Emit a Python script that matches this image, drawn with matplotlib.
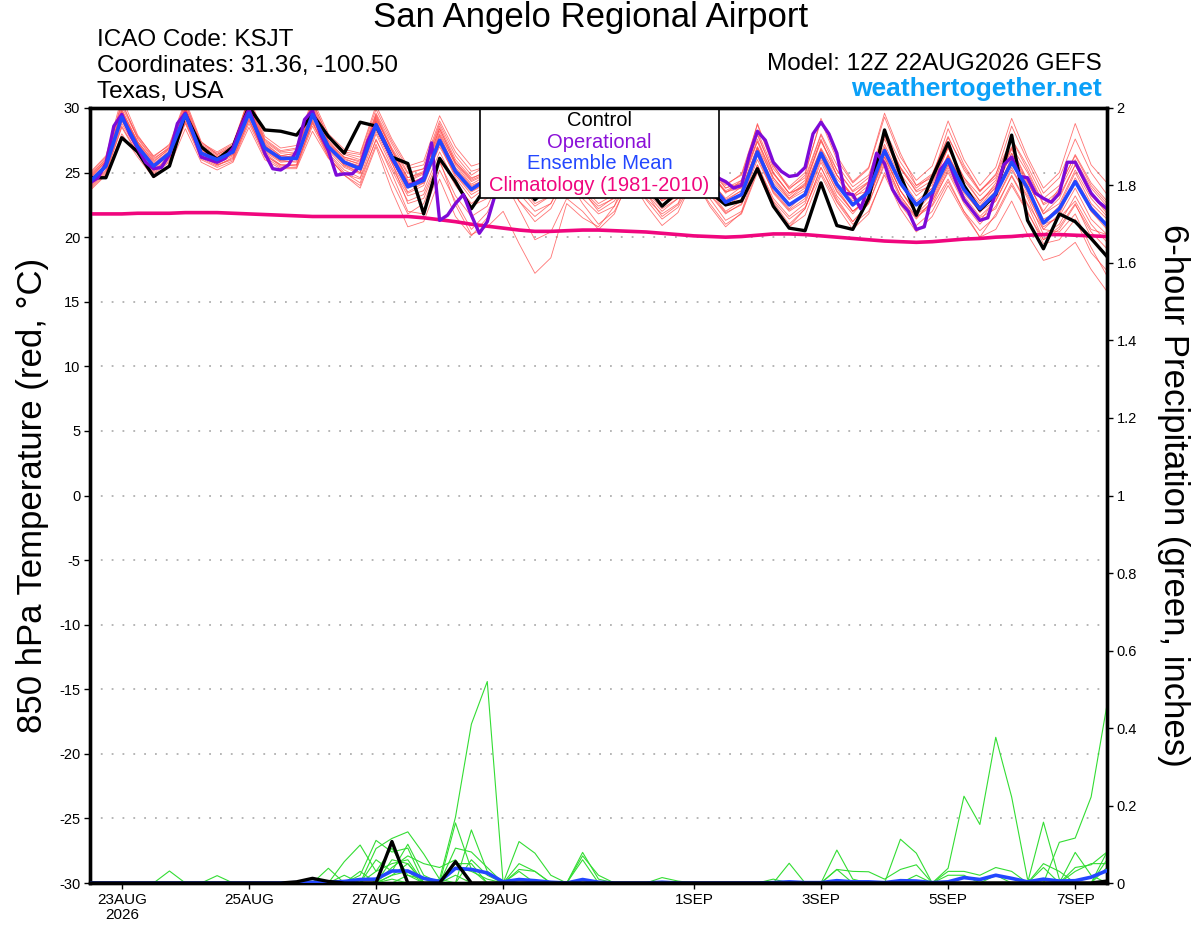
import matplotlib
matplotlib.use('Agg')
import matplotlib.pyplot as plt
import numpy as np
import pandas as pd
from matplotlib.patches import Rectangle

plt.rcParams['font.family'] = ['Liberation Sans', 'DejaVu Sans']
plt.rcParams['axes.unicode_minus'] = False

# ---------------- data ----------------
times = pd.date_range('2026-08-22 12:00', periods=65, freq='6h')
op_times = pd.date_range('2026-08-22 12:00', periods=129, freq='3h')

tick_dates = ['2026-08-23', '2026-08-25', '2026-08-27', '2026-08-29',
              '2026-09-01', '2026-09-03', '2026-09-05', '2026-09-07']
tick_labels = ['23AUG\n2026', '25AUG', '27AUG', '29AUG', '1SEP', '3SEP', '5SEP', '7SEP']

control_t = [24.6,
             24.6, 27.7, 26.6, 24.7, 25.5, 29.5, 27.0, 26.0, 27.0, 30.1, 28.3, 28.2,
             27.9, 29.5, 27.8, 26.5, 28.9, 28.6, 26.2, 25.7, 21.8, 26.1, 24.3, 22.2,
             24.0, 26.0, 24.5, 22.9, 24.0, 25.8, 24.3, 23.4, 23.6, 25.5, 24.0, 22.4,
             23.5, 25.7, 23.5, 22.5, 22.8, 25.3, 22.4, 20.7, 20.5, 24.2, 20.9, 20.6,
             23.0, 28.3, 24.8, 21.7, 24.6, 27.3, 24.0, 22.1, 23.3, 27.9, 21.3, 19.1,
             21.8, 21.2, 19.9, 18.5]

mean_t = [24.3,
          25.5, 29.3, 27.0, 25.5, 26.5, 29.5, 26.5, 26.0, 26.6, 29.6, 26.9, 26.1,
          26.1, 29.5, 27.0, 25.8, 25.3, 28.7, 26.2, 23.9, 24.4, 27.5, 25.1, 23.7,
          24.5, 26.8, 25.0, 23.8, 24.2, 26.5, 24.8, 23.6, 24.0, 26.2, 24.6, 23.1,
          23.8, 26.0, 24.2, 22.7, 23.3, 26.6, 23.9, 22.5, 23.3, 26.5, 24.1, 22.5,
          23.5, 26.7, 24.2, 22.5, 23.5, 26.0, 23.7, 22.2, 23.4, 25.8, 23.8, 21.1,
          22.2, 24.3, 22.2, 20.9]

oper_t = [24.2, 24.6, 25.7, 28.6, 29.5, 28.0, 26.9, 25.8, 25.3, 25.4, 26.4, 28.8,
          29.6, 28.0, 26.2, 26.0, 25.8, 26.1, 26.9, 28.6, 29.9, 28.2, 26.5, 25.3,
          25.2, 25.6, 26.7, 29.1, 29.8, 28.0, 26.7, 24.8, 24.9, 24.9, 25.5, 27.5,
          28.7, 27.4, 26.1, 25.1, 24.0, 24.2, 24.6, 27.3, 21.3, 21.7, 22.6, 23.3,
          21.7, 20.3, 21.2,
          23.3, 25.5, 24.8, 24.0, 23.6, 23.4, 23.2, 23.8, 25.0, 26.2, 25.4, 24.5,
          23.8, 23.5, 23.4, 24.0, 25.2, 26.5, 25.8, 24.9, 24.2, 23.7, 23.5, 24.0,
          25.0, 26.0, 25.6, 25.0, 24.6,
          24.3, 23.8, 24.0, 26.4, 28.2, 27.5, 25.8, 25.1, 24.7,
          24.8, 25.4, 28.0, 28.9, 28.0, 26.5, 23.4, 23.3, 22.2, 24.0, 26.5, 25.7,
          23.7, 22.7, 22.0, 20.6, 20.8, 23.3, 25.2, 26.0, 24.3, 22.9, 22.1, 21.3,
          21.5, 23.5, 25.6, 26.2, 24.7, 24.6, 23.4, 23.0, 22.7, 23.4, 25.8, 25.8,
          24.6, 23.4, 22.7, 22.2]

climo_t = [21.8, 21.8, 21.8, 21.85, 21.85, 21.85, 21.9, 21.9, 21.9,
           21.85, 21.8, 21.75, 21.7, 21.65, 21.6, 21.6, 21.6,
           21.6, 21.6, 21.6, 21.6, 21.5, 21.35, 21.2,
           21.0, 20.85, 20.7, 20.55, 20.45, 20.45, 20.5, 20.55, 20.55,
           20.5, 20.45, 20.4, 20.3, 20.2, 20.1, 20.05, 20.0,
           20.05, 20.15, 20.25, 20.25, 20.2, 20.1, 20.0, 19.9,
           19.8, 19.7, 19.65, 19.6, 19.65, 19.75, 19.85, 19.9,
           20.0, 20.05, 20.15, 20.2, 20.2, 20.15, 20.1, 20.05]

m01 = [24.8, 26.0, 30.5, 27.6, 26.0, 27.0, 30.3, 27.2, 26.5, 27.2, 30.6, 27.5, 26.6, 26.8, 30.4, 27.8, 26.5, 26.2, 29.6, 27.2, 25.0, 25.3, 28.8, 26.3, 24.8, 25.6, 28.0, 26.2, 24.9, 25.4, 27.9, 26.0, 24.8, 25.2, 27.7, 25.9, 24.5, 25.0, 27.5, 25.6, 24.1, 24.8, 28.2, 25.3, 23.8, 24.6, 28.0, 25.6, 23.9, 24.8, 28.3, 25.8, 24.0, 24.9, 27.8, 25.2, 23.5, 24.9, 27.6, 25.5, 23.0, 24.0, 26.3, 24.0, 22.6]
m02 = [23.6, 24.8, 28.0, 26.2, 24.6, 25.5, 28.4, 25.8, 25.2, 25.8, 28.5, 26.0, 25.3, 25.3, 28.2, 26.1, 24.9, 24.5, 27.5, 25.2, 22.8, 23.3, 26.2, 24.0, 22.4, 23.0, 25.2, 23.4, 22.0, 22.6, 24.8, 23.0, 21.8, 22.4, 24.6, 22.9, 21.4, 22.3, 24.5, 22.6, 21.0, 21.8, 25.0, 22.3, 20.8, 21.7, 24.8, 22.4, 20.6, 21.8, 25.0, 22.5, 20.9, 22.0, 24.3, 22.0, 20.5, 21.6, 24.0, 21.9, 19.8, 20.6, 22.5, 20.4, 19.1]
m03 = [24.0, 25.6, 29.6, 27.3, 25.4, 26.4, 29.8, 26.9, 25.9, 26.4, 30.1, 27.0, 26.0, 26.0, 29.9, 27.2, 25.5, 25.0, 29.0, 25.8, 22.6, 23.0, 26.0, 22.5, 20.2, 20.8, 22.0, 19.5, 17.2, 18.4, 22.6, 21.5, 20.8, 22.4, 25.6, 24.2, 22.8, 23.4, 26.2, 24.5, 22.9, 23.6, 27.0, 24.6, 23.0, 23.8, 26.9, 24.8, 23.2, 24.2, 27.8, 25.3, 23.6, 24.4, 27.0, 24.6, 22.8, 23.8, 26.5, 24.0, 21.0, 21.5, 22.8, 20.6, 20.2]
m04 = [24.4, 25.3, 29.0, 26.8, 25.2, 26.2, 29.2, 26.3, 25.7, 26.3, 29.4, 26.6, 25.8, 25.9, 29.1, 26.7, 25.4, 24.9, 28.2, 25.7, 23.4, 24.0, 27.2, 24.6, 23.0, 23.9, 26.0, 24.1, 22.6, 23.2, 25.5, 23.6, 22.0, 22.8, 25.0, 23.4, 21.6, 22.5, 24.8, 23.0, 21.3, 22.0, 25.6, 22.7, 21.0, 22.2, 25.4, 23.0, 21.2, 22.6, 25.8, 23.2, 21.5, 22.8, 25.0, 22.6, 21.0, 22.4, 24.7, 22.5, 19.8, 20.8, 22.6, 20.0, 18.6]
m05 = [24.2, 25.5, 29.5, 27.0, 25.3, 26.4, 29.9, 26.6, 26.1, 26.9, 30.2, 27.1, 26.2, 26.2, 29.7, 27.2, 26.1, 25.6, 29.2, 26.8, 24.6, 25.0, 28.4, 25.8, 24.5, 25.2, 27.8, 25.9, 24.6, 25.1, 27.9, 25.7, 24.4, 25.0, 27.8, 25.5, 24.2, 24.8, 27.9, 25.4, 24.0, 24.9, 28.7, 25.5, 23.9, 25.0, 29.0, 26.0, 24.2, 25.3, 29.3, 26.2, 24.4, 25.5, 29.0, 26.0, 24.0, 25.4, 29.2, 26.2, 23.8, 25.0, 28.8, 25.6, 24.2]
m06 = [25.0, 26.3, 30.8, 27.9, 26.2, 27.2, 30.6, 27.4, 26.4, 27.0, 30.9, 27.8, 26.9, 27.1, 30.7, 28.0, 26.8, 26.5, 30.2, 27.6, 25.5, 25.9, 29.4, 27.0, 25.5, 25.9, 28.6, 26.8, 25.3, 25.6, 28.3, 26.5, 25.0, 25.3, 28.0, 26.0, 24.5, 24.9, 27.6, 25.6, 23.8, 24.2, 27.9, 25.0, 23.4, 24.0, 27.4, 25.2, 23.5, 24.3, 27.9, 25.4, 23.5, 24.0, 26.9, 24.6, 23.2, 24.4, 27.0, 25.0, 22.5, 23.2, 25.6, 23.2, 22.0]
m07 = [23.8, 25.0, 28.6, 26.5, 25.0, 25.9, 28.9, 26.2, 25.6, 26.1, 29.0, 26.4, 25.5, 25.6, 28.8, 26.4, 25.0, 24.2, 27.6, 24.9, 22.0, 21.8, 25.2, 22.8, 20.6, 21.9, 24.5, 22.2, 19.8, 20.4, 23.0, 22.0, 20.6, 21.8, 24.8, 23.0, 21.8, 22.6, 25.5, 23.6, 22.0, 22.8, 26.0, 23.5, 22.1, 23.0, 26.3, 23.8, 22.0, 23.0, 26.2, 23.6, 21.8, 22.5, 25.2, 22.8, 21.5, 22.2, 24.8, 22.6, 20.6, 20.4, 21.8, 19.2, 17.0]
m08 = [24.1, 25.7, 29.3, 27.1, 25.6, 26.6, 29.6, 26.7, 26.1, 26.5, 29.7, 26.9, 26.2, 26.3, 29.6, 26.9, 25.9, 25.5, 28.8, 26.4, 24.2, 24.6, 27.8, 25.4, 24.0, 24.5, 27.0, 25.2, 23.9, 24.5, 26.8, 25.0, 23.7, 24.3, 26.8, 24.9, 23.5, 24.0, 26.5, 24.5, 22.8, 23.6, 27.0, 24.0, 22.6, 23.2, 26.2, 23.5, 22.0, 23.0, 26.0, 23.2, 21.6, 22.4, 24.5, 22.0, 20.0, 20.6, 22.8, 20.2, 18.2, 18.6, 19.6, 17.5, 15.8]
m09 = [24.6, 25.9, 29.9, 27.4, 25.8, 26.9, 30.0, 26.9, 26.2, 26.8, 30.3, 27.3, 26.3, 26.5, 30.2, 27.3, 26.2, 25.9, 29.3, 26.7, 24.4, 25.0, 28.0, 25.7, 24.3, 24.9, 27.3, 25.5, 24.2, 24.8, 27.1, 25.2, 24.0, 24.5, 26.9, 25.0, 23.7, 24.4, 26.8, 24.8, 23.5, 24.0, 27.6, 24.6, 23.2, 24.2, 27.5, 24.8, 23.0, 24.0, 27.2, 24.6, 22.8, 23.8, 26.3, 24.0, 22.6, 24.2, 26.9, 24.4, 21.8, 22.6, 25.2, 23.0, 21.6]
m10 = [24.3, 25.4, 29.1, 26.9, 25.4, 26.3, 29.4, 26.4, 25.8, 26.4, 29.5, 26.7, 25.9, 25.8, 29.3, 26.8, 25.6, 25.0, 28.5, 25.9, 23.8, 24.2, 27.0, 24.8, 23.5, 24.2, 26.4, 24.6, 23.4, 24.0, 26.2, 24.4, 23.2, 23.8, 26.0, 24.2, 22.8, 23.6, 25.8, 23.9, 22.4, 23.2, 26.4, 23.6, 22.2, 23.4, 26.6, 24.0, 22.4, 23.8, 26.9, 24.2, 22.6, 23.8, 26.4, 24.0, 22.3, 23.6, 26.0, 23.8, 21.4, 22.0, 24.6, 22.4, 21.0]
m11 = [24.0, 25.2, 29.2, 26.6, 25.1, 26.1, 29.3, 26.1, 25.5, 26.2, 29.2, 26.3, 25.6, 25.5, 29.0, 26.2, 24.8, 23.8, 27.0, 23.6, 20.8, 21.2, 24.5, 21.6, 20.1, 21.5, 24.8, 22.8, 21.6, 22.6, 25.2, 23.6, 22.4, 23.0, 25.6, 23.8, 22.4, 23.2, 25.8, 24.0, 22.5, 22.9, 26.3, 23.4, 22.0, 22.8, 26.0, 23.6, 22.0, 23.0, 26.4, 23.6, 21.8, 23.0, 25.6, 23.2, 21.6, 22.8, 25.4, 23.0, 20.2, 21.0, 23.2, 21.0, 19.6]
m12 = [24.5, 25.8, 29.7, 27.3, 25.7, 26.7, 29.7, 26.8, 26.2, 26.7, 29.9, 27.1, 26.1, 26.4, 29.8, 27.2, 26.0, 25.7, 29.0, 26.5, 24.3, 24.9, 28.2, 25.6, 24.1, 24.8, 27.5, 25.4, 23.9, 24.7, 27.3, 25.3, 23.9, 24.6, 27.4, 25.3, 23.6, 24.6, 27.5, 25.2, 23.4, 24.4, 28.8, 25.6, 23.7, 24.8, 29.2, 26.3, 24.3, 25.4, 29.6, 26.5, 24.0, 24.6, 28.4, 25.6, 23.6, 24.8, 28.6, 25.9, 23.4, 24.6, 27.6, 25.0, 23.3]
m13 = [24.7, 26.1, 30.1, 27.7, 26.1, 26.9, 30.1, 27.1, 26.4, 27.1, 30.4, 27.4, 26.5, 26.6, 30.3, 27.5, 26.4, 26.0, 29.5, 26.9, 24.9, 25.3, 28.6, 26.0, 24.6, 25.0, 27.6, 25.6, 24.4, 24.9, 27.5, 25.6, 24.3, 24.9, 27.3, 25.4, 24.1, 24.7, 27.2, 25.2, 23.8, 24.4, 27.4, 24.9, 23.4, 23.9, 26.8, 24.5, 23.2, 23.6, 26.5, 24.0, 22.6, 23.2, 25.6, 23.4, 22.0, 22.8, 25.2, 23.2, 20.8, 21.6, 23.8, 21.4, 20.2]
m14 = [23.9, 25.1, 28.8, 26.7, 25.2, 26.0, 29.0, 26.3, 25.6, 26.0, 29.1, 26.5, 25.6, 25.6, 28.9, 26.5, 25.2, 24.6, 28.0, 25.4, 23.2, 23.6, 26.6, 24.2, 22.6, 23.5, 25.8, 23.8, 22.4, 23.2, 25.4, 23.5, 22.2, 23.1, 25.3, 23.4, 22.0, 23.0, 25.2, 23.3, 21.8, 22.6, 25.6, 23.0, 21.6, 22.6, 25.8, 23.2, 21.8, 23.2, 26.2, 23.6, 22.0, 23.4, 26.0, 23.6, 21.9, 23.4, 26.2, 23.8, 21.2, 22.4, 25.0, 22.6, 21.4]
m15 = [24.9, 26.2, 30.3, 27.8, 26.3, 27.1, 30.4, 27.3, 26.6, 27.3, 30.7, 27.6, 26.7, 26.9, 30.5, 27.7, 26.6, 26.4, 29.9, 27.4, 25.3, 25.6, 29.0, 26.6, 25.1, 25.5, 28.2, 26.4, 24.9, 25.3, 28.0, 26.1, 24.7, 25.0, 27.9, 25.8, 24.3, 24.5, 27.0, 25.0, 23.5, 23.8, 26.8, 24.2, 22.9, 23.6, 26.6, 24.2, 22.8, 23.5, 26.6, 24.2, 22.6, 23.6, 26.2, 24.0, 22.4, 23.9, 26.5, 24.2, 22.0, 23.8, 26.4, 24.2, 22.8]
m16 = [24.2, 25.5, 29.4, 27.0, 25.4, 26.4, 29.6, 26.6, 25.9, 26.6, 29.7, 26.8, 25.9, 26.1, 29.6, 27.0, 25.6, 25.2, 28.6, 26.0, 23.5, 24.2, 27.3, 24.8, 23.3, 24.0, 26.4, 24.3, 23.0, 23.6, 25.9, 23.9, 22.6, 23.3, 25.6, 23.6, 22.2, 23.0, 25.3, 23.4, 21.9, 22.5, 25.4, 22.8, 21.4, 22.3, 25.0, 22.7, 21.0, 22.0, 24.8, 22.2, 20.4, 21.6, 24.0, 21.8, 20.0, 21.8, 24.2, 22.0, 19.5, 19.8, 21.4, 18.8, 17.4]
m17 = [24.6, 25.9, 29.8, 27.4, 25.9, 26.8, 30.0, 27.0, 26.3, 26.9, 30.1, 27.2, 26.3, 26.5, 30.0, 27.4, 26.2, 25.8, 29.4, 26.7, 24.6, 25.1, 28.4, 25.8, 24.4, 25.0, 27.8, 25.7, 24.3, 24.9, 27.7, 25.5, 24.2, 24.7, 27.5, 25.3, 23.9, 24.4, 27.2, 25.0, 23.6, 24.2, 28.0, 25.0, 23.4, 24.4, 27.9, 25.2, 23.6, 24.6, 28.0, 25.4, 23.8, 24.8, 27.7, 25.4, 23.6, 24.6, 27.6, 25.2, 22.6, 23.6, 26.0, 23.8, 22.4]
m18 = [23.7, 24.9, 28.5, 26.4, 24.9, 25.8, 28.8, 26.0, 25.4, 25.9, 28.8, 26.2, 25.4, 25.4, 28.6, 26.2, 24.8, 24.0, 27.2, 24.3, 21.8, 22.6, 25.8, 23.2, 21.6, 22.4, 25.0, 22.8, 21.2, 22.2, 24.6, 22.6, 21.0, 22.0, 24.5, 22.5, 20.9, 21.9, 24.6, 22.4, 20.8, 21.9, 25.2, 22.4, 20.8, 22.2, 25.4, 22.8, 21.2, 22.6, 25.6, 23.0, 21.4, 22.8, 25.4, 23.0, 21.2, 23.0, 25.8, 23.4, 20.6, 21.8, 24.4, 22.0, 20.8]
m19 = [24.3, 25.6, 29.4, 27.1, 25.5, 26.5, 29.6, 26.6, 26.0, 26.6, 29.8, 26.9, 26.0, 26.1, 29.6, 26.9, 25.7, 25.3, 28.9, 26.2, 23.9, 24.3, 27.6, 25.0, 23.6, 24.2, 26.9, 24.7, 23.4, 24.0, 26.6, 24.5, 23.2, 23.8, 26.4, 24.2, 22.9, 23.6, 26.2, 24.0, 22.6, 23.4, 26.9, 23.9, 22.4, 23.4, 26.8, 24.1, 22.4, 23.6, 27.0, 24.3, 22.6, 23.6, 26.3, 23.8, 22.2, 23.4, 26.1, 23.6, 21.2, 22.0, 24.2, 22.0, 20.6]
m20 = [24.4, 25.6, 29.6, 27.2, 25.6, 26.6, 29.8, 26.8, 26.1, 26.6, 30.0, 27.0, 26.1, 26.2, 29.7, 27.1, 25.8, 25.5, 29.1, 26.4, 24.1, 24.6, 27.9, 25.3, 23.9, 24.6, 27.2, 25.1, 23.8, 24.4, 27.0, 24.9, 23.6, 24.2, 26.8, 24.6, 23.2, 24.0, 26.6, 24.4, 23.0, 23.9, 27.4, 24.4, 23.0, 24.1, 27.6, 24.8, 23.2, 24.3, 27.6, 24.9, 23.2, 24.2, 26.9, 24.4, 22.8, 24.0, 26.8, 24.3, 21.8, 23.0, 25.6, 23.4, 21.8]
member_t = [m01, m02, m03, m04, m05, m06, m07, m08, m09, m10,
            m11, m12, m13, m14, m15, m16, m17, m18, m19, m20]

# 6-hour precipitation (inches); members listed as {time index: value}, others zero
control_p = {13: 0.003, 14: 0.012, 15: 0.004, 18: 0.0, 19: 0.107, 20: 0.0,
             22: 0.0, 23: 0.055, 24: 0.0, 63: 0.0, 64: 0.005}
mean_p = [0, 0, 0, 0, 0, 0, 0, 0, 0, 0, 0, 0, 0, 0.001, 0.002, 0.002, 0.004,
          0.009, 0.01, 0.031, 0.031, 0.012, 0.004, 0.038, 0.035, 0.026, 0.003, 0.009,
          0.006, 0.002, 0.0, 0.009, 0.002, 0, 0, 0, 0.002, 0, 0, 0, 0, 0, 0, 0.001,
          0.003, 0.001, 0.001, 0.006, 0.003, 0.003, 0.001, 0.006, 0.005, 0.001, 0.003,
          0.014, 0.009, 0.02, 0.012, 0.003, 0.01, 0.005, 0.006, 0.015, 0.032]
p01 = {5: 0.031, 22: 0.01, 23: 0.17, 24: 0.41, 25: 0.52, 47: 0.035, 64: 0.06}
p02 = {16: 0.055, 17: 0.098, 18: 0.03, 19: 0.09, 20: 0.02, 54: 0.038, 55: 0.224,
       56: 0.151, 57: 0.376, 58: 0.222, 59: 0.01}
p03 = {8: 0.019, 18: 0.089, 19: 0.115, 20: 0.132, 21: 0.075, 22: 0.01, 44: 0.051,
       60: 0.157, 61: 0.01}
p04 = {15: 0.038, 19: 0.06, 20: 0.05, 23: 0.155, 24: 0.035, 27: 0.107, 28: 0.077,
       29: 0.02, 61: 0.105, 62: 0.116, 63: 0.222, 64: 0.46}
p05 = {17: 0.02, 18: 0.11, 19: 0.08, 20: 0.09, 24: 0.137, 25: 0.03, 31: 0.079,
       32: 0.01, 47: 0.085, 48: 0.01}
p06 = {19: 0.04, 20: 0.07, 21: 0.05, 22: 0.04, 23: 0.06, 27: 0.05, 28: 0.03,
       51: 0.113, 52: 0.077}
p07 = {16: 0.02, 18: 0.06, 19: 0.03, 20: 0.1, 21: 0.02, 24: 0.06, 25: 0.02,
       31: 0.07, 32: 0.02, 62: 0.079, 63: 0.02}
p08 = {17: 0.03, 19: 0.02, 20: 0.05, 23: 0.09, 24: 0.08, 25: 0.04, 27: 0.035,
       28: 0.03, 47: 0.035, 48: 0.03, 49: 0.029, 50: 0.01, 51: 0.035, 52: 0.047,
       54: 0.03, 55: 0.03, 56: 0.02, 57: 0.04, 58: 0.03, 60: 0.04, 62: 0.03,
       63: 0.05, 64: 0.05}
p09 = {18: 0.03, 19: 0.05, 20: 0.06, 23: 0.05, 24: 0.05, 31: 0.06, 54: 0.02,
       55: 0.02, 60: 0.05, 61: 0.03, 64: 0.08}
p10 = {19: 0.02, 20: 0.03, 23: 0.04, 24: 0.03, 25: 0.01, 27: 0.03, 52: 0.02,
       57: 0.02, 64: 0.04}
p11 = {20: 0.02, 21: 0.01}
p12 = {}
p13 = {19: 0.01, 23: 0.02}
p14 = {36: 0.014, 37: 0.005}
p15 = {}
p16 = {62: 0.04, 63: 0.047, 64: 0.08}
p17 = {}
p18 = {43: 0.01}
p19 = {}
p20 = {}
member_p = [p01, p02, p03, p04, p05, p06, p07, p08, p09, p10,
            p11, p12, p13, p14, p15, p16, p17, p18, p19, p20]


def full_series(sparse, n=65):
    s = np.zeros(n)
    for k, v in sparse.items():
        s[k] = v
    return s


# ---------------- figure ----------------
fig = plt.figure(figsize=(12, 9.27), dpi=100)
ax = fig.add_axes([0.075, 0.04746, 0.8475, 0.83604])
ax2 = ax.twinx()

# ensemble members
for m in member_t:
    ax.plot(times, m, color='#ff4545', lw=0.6, alpha=0.75, zorder=2)
for p in member_p:
    ax2.plot(times, full_series(p), color='#33dd33', lw=0.8, zorder=2)

ax.plot(times, climo_t, color='#f0067e', lw=2.6, zorder=4, solid_capstyle='round')
ax.plot(times, control_t, color='black', lw=2.4, zorder=5)
ax.plot(op_times, oper_t, color='#7d0ad8', lw=2.4, zorder=6)
ax.plot(times, mean_t, color='#2347ff', lw=2.6, zorder=7)

ax2.plot(times, mean_p, color='#2347ff', lw=2.6, zorder=4)
ax2.plot(times, full_series(control_p), color='black', lw=2.4, zorder=5)

# axes limits / ticks
ax.set_xlim(times[0], times[-1])
ax.set_ylim(-30, 30)
ax2.set_ylim(0, 2)
ax.set_yticks(np.arange(-30, 31, 5))
ax2.set_yticks(np.arange(0, 2.01, 0.2))
ax2.set_yticklabels(['%g' % round(v, 1) for v in np.arange(0, 2.01, 0.2)])
ax.set_xticks(pd.to_datetime(tick_dates))
ax.set_xticklabels(tick_labels)

for yv in range(-25, 30, 5):
    ax.axhline(yv, color='#b0b0b0', lw=1.3, ls=(0, (1, 5)), zorder=1)

for a in (ax, ax2):
    for s in a.spines.values():
        s.set_linewidth(2.4)
ax.tick_params(axis='y', direction='out', length=4, width=1, labelsize=10.5, pad=3)
ax2.tick_params(axis='y', direction='out', length=4, width=1, labelsize=10.5, pad=3)
ax.tick_params(axis='x', direction='out', length=4, width=1, labelsize=11, pad=3)
for lab in ax.get_xticklabels():
    lab.set_linespacing(1.1)

ax.set_ylabel('850 hPa Temperature (red, °C)', fontsize=25)
ax.yaxis.set_label_coords(-0.040, 0.5)
ax2.set_ylabel('6-hour Precipitation (green, inches)', fontsize=25, rotation=-90,
               labelpad=38)

# legend box
ax.add_patch(Rectangle((0.3835, 0.8839), 0.235, 0.1161, transform=ax.transAxes,
                       facecolor='white', edgecolor='black', lw=1.2, zorder=20))
leg_items = [('Control', 'black'), ('Operational', '#8a0fd8'),
             ('Ensemble Mean', '#2347ff'), ('Climatology (1981-2010)', '#f0067e')]
for k, (txt, col) in enumerate(leg_items):
    ax.text(0.501, 0.9835 - k * 0.0278, txt, transform=ax.transAxes, ha='center',
            va='center', fontsize=14.5, color=col, zorder=21)

# header texts
fig.text(0.492, 0.9806, 'San Angelo Regional Airport', ha='center', va='center', fontsize=25)
fig.text(0.081, 0.9569, 'ICAO Code: KSJT', ha='left', va='center', fontsize=17.5)
fig.text(0.081, 0.9288, 'Coordinates: 31.36, -100.50', ha='left', va='center', fontsize=17.5)
fig.text(0.081, 0.9008, 'Texas, USA', ha='left', va='center', fontsize=17.5)
fig.text(0.9185, 0.931, 'Model: 12Z 22AUG2026 GEFS', ha='right', va='center', fontsize=17.5)
fig.text(0.9185, 0.904, 'weathertogether.net', ha='right', va='center', fontsize=19,
         fontweight='bold', color='#0aa0f8')

fig.savefig('out.png', dpi=100)
